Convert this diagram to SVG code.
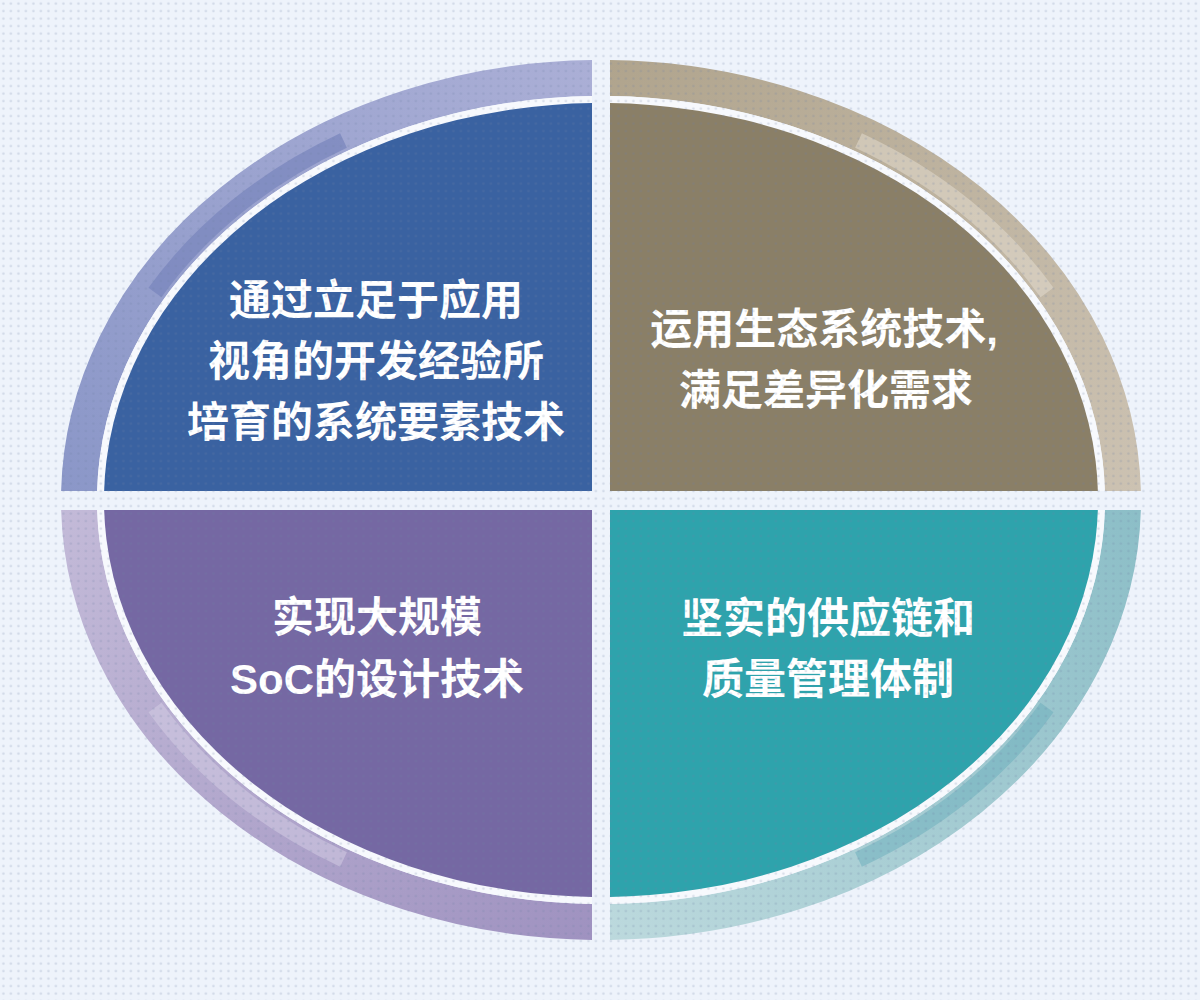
<svg xmlns="http://www.w3.org/2000/svg" width="1200" height="1000" viewBox="0 0 1200 1000">
<style>
.lbl{font-family:"Liberation Sans","Noto Sans CJK SC",sans-serif;font-weight:700;font-size:42px;fill:#ffffff;text-anchor:middle}
.ring{fill:none;stroke-width:36}
.band{fill:none;stroke-width:16;stroke-linecap:butt}
.gapline{fill:#f7f9fd}
</style>
<defs>
<pattern id="dots" width="7.5" height="7.5" patternUnits="userSpaceOnUse">
<circle cx="3.4" cy="3.6" r="1.3" fill="#6f7fa3" fill-opacity="0.22"/>
</pattern>
<clipPath id="c-tl"><rect x="0" y="0" width="592" height="491"/></clipPath>
<clipPath id="c-tr"><rect x="610" y="0" width="590" height="491"/></clipPath>
<clipPath id="c-bl"><rect x="0" y="510" width="592" height="490"/></clipPath>
<clipPath id="c-br"><rect x="610" y="510" width="590" height="490"/></clipPath>
<linearGradient id="g-tl" gradientUnits="userSpaceOnUse" x1="590" y1="60" x2="60" y2="490">
<stop offset="0" stop-color="#abafd6"/><stop offset="1" stop-color="#8b97c8"/>
</linearGradient>
<linearGradient id="g-tr" gradientUnits="userSpaceOnUse" x1="610" y1="60" x2="1140" y2="490">
<stop offset="0" stop-color="#b0a48d"/><stop offset="1" stop-color="#ccc2b2"/>
</linearGradient>
<linearGradient id="g-bl" gradientUnits="userSpaceOnUse" x1="60" y1="510" x2="590" y2="940">
<stop offset="0" stop-color="#c3bad8"/><stop offset="1" stop-color="#9f92c0"/>
</linearGradient>
<linearGradient id="g-br" gradientUnits="userSpaceOnUse" x1="1140" y1="510" x2="610" y2="940">
<stop offset="0" stop-color="#8cbec7"/><stop offset="1" stop-color="#bcd9dd"/>
</linearGradient>
</defs>
<rect x="0" y="0" width="1200" height="1000" fill="#eef3fb"/>

<g id="connectors"></g>

<g id="node-tl" clip-path="url(#c-tl)">
<ellipse class="ring" cx="601" cy="500" rx="522" ry="422" stroke="url(#g-tl)"/>
<path class="band" d="M155,292.5 A515,415 0 0 1 343.5,140.6" stroke="#7884bc" stroke-opacity="0.7"/>
<ellipse class="gapline" cx="601" cy="500" rx="504" ry="404"/>
<ellipse cx="601" cy="500" rx="497" ry="397" fill="#3a62a1"/>
<text class="lbl" x="376" y="315">通过立足于应用</text>
<text class="lbl" x="376" y="376">视角的开发经验所</text>
<text class="lbl" x="376" y="437">培育的系统要素技术</text>
</g>

<g id="node-tr" clip-path="url(#c-tr)">
<ellipse class="ring" cx="601" cy="500" rx="522" ry="422" stroke="url(#g-tr)"/>
<path class="band" d="M858.5,140.6 A515,415 0 0 1 1047,292.5" stroke="#e2dacd" stroke-opacity="0.55"/>
<ellipse class="gapline" cx="601" cy="500" rx="504" ry="404"/>
<ellipse cx="601" cy="500" rx="497" ry="397" fill="#8a7f67"/>
<text class="lbl" x="824" y="344">运用生态系统技术,</text>
<text class="lbl" x="826" y="405">满足差异化需求</text>
</g>

<g id="node-bl" clip-path="url(#c-bl)">
<ellipse class="ring" cx="601" cy="500" rx="522" ry="422" stroke="url(#g-bl)"/>
<path class="band" d="M343.5,859.4 A515,415 0 0 1 155,707.5" stroke="#d6d0e6" stroke-opacity="0.5"/>
<ellipse class="gapline" cx="601" cy="500" rx="504" ry="404"/>
<ellipse cx="601" cy="500" rx="497" ry="397" fill="#7568a3"/>
<text class="lbl" x="377" y="632">实现大规模</text>
<text class="lbl" x="377" y="694">SoC的设计技术</text>
</g>

<g id="node-br" clip-path="url(#c-br)">
<ellipse class="ring" cx="601" cy="500" rx="522" ry="422" stroke="url(#g-br)"/>
<path class="band" d="M1047,707.5 A515,415 0 0 1 858.5,859.4" stroke="#6aaebb" stroke-opacity="0.5"/>
<ellipse class="gapline" cx="601" cy="500" rx="504" ry="404"/>
<ellipse cx="601" cy="500" rx="497" ry="397" fill="#2ea3ac"/>
<text class="lbl" x="828" y="633">坚实的供应链和</text>
<text class="lbl" x="828" y="694">质量管理体制</text>
</g>

<rect x="0" y="0" width="1200" height="1000" fill="url(#dots)"/>
</svg>
